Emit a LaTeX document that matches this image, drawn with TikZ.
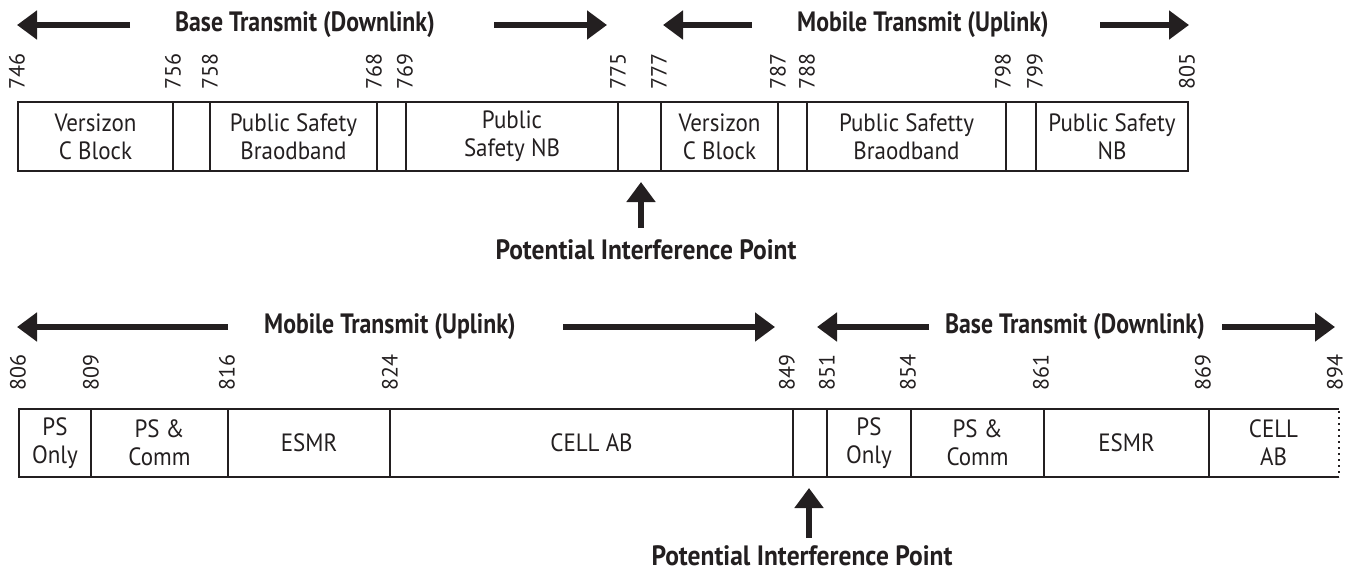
\documentclass[tikz,border=0pt]{standalone}
\usepackage{fontspec}
\setmainfont{PT Sans}
\newfontfamily\bandfont{PT Sans}[FakeStretch=0.92]
\newfontfamily\titlefont{PT Sans}[FakeStretch=0.85]
\newfontfamily\pointfont{PT Sans}[FakeStretch=0.91]
\usetikzlibrary{arrows.meta}
\definecolor{ink}{RGB}{35,31,32}
\tikzset{
	bandline/.style={draw=ink, line width=1.25pt},
	bandtext/.style={text=ink, align=center, inner sep=0pt, font=\bandfont\fontsize{12.5pt}{14pt}\selectfont},
	freq/.style={text=ink, rotate=90, anchor=west, inner sep=0pt, font=\fontsize{11pt}{12pt}\selectfont},
	direction/.style={text=ink, inner sep=0pt, font=\titlefont\bfseries\fontsize{14pt}{16pt}\selectfont},
	pointlabel/.style={text=ink, inner sep=0pt, font=\pointfont\bfseries\fontsize{14pt}{16pt}\selectfont},
	bigarrow/.style={draw=ink, line width=3.4pt, -{Triangle[length=10pt,width=14pt]}}
}

\begin{document}
\begin{tikzpicture}[x=0.5pt, y=-0.5pt]
			%%%%% START %%%%%
			\useasboundingbox (0,0) rectangle (1355,573);
			
			% upper band plan
			\node[direction] (dl1) at (305,25) {Base Transmit (Downlink)};
			\coordinate (dl1a) at (130,25); \coordinate (dl1b) at (17,25);
			\coordinate (dl1c) at (494,25); \coordinate (dl1d) at (607,25);
			\draw[bigarrow] (dl1a) -- (dl1b);
			\draw[bigarrow] (dl1c) -- (dl1d);
			
			\node[direction] (ul1) at (923,25) {Mobile Transmit (Uplink)};
			\coordinate (ul1a) at (752,25); \coordinate (ul1b) at (663,25);
			\coordinate (ul1c) at (1100,25); \coordinate (ul1d) at (1189,25);
			\draw[bigarrow] (ul1a) -- (ul1b);
			\draw[bigarrow] (ul1c) -- (ul1d);
			
			\node[freq] (f746) at (17,90) {746};
			\node[freq] (f756) at (173,90) {756};
			\node[freq] (f758) at (210,90) {758};
			\node[freq] (f768) at (374,90) {768};
			\node[freq] (f769) at (405,90) {769};
			\node[freq] (f775) at (618,90) {775};
			\node[freq] (f777) at (659,90) {777};
			\node[freq] (f787) at (778,90) {787};
			\node[freq] (f788) at (807,90) {788};
			\node[freq] (f798) at (1003,90) {798};
			\node[freq] (f799) at (1035,90) {799};
			\node[freq] (f805) at (1187,90) {805};
			
			\draw[bandline] (18,102) rectangle (173,171);
			\draw[bandline] (173,102) rectangle (210,171);
			\draw[bandline] (210,102) rectangle (377,171);
			\draw[bandline] (377,102) rectangle (406,171);
			\draw[bandline] (406,102) rectangle (618,171);
			\draw[bandline] (618,102) rectangle (661,171);
			\draw[bandline] (661,102) rectangle (778,171);
			\draw[bandline] (778,102) rectangle (807,171);
			\draw[bandline] (807,102) rectangle (1006,171);
			\draw[bandline] (1006,102) rectangle (1036,171);
			\draw[bandline] (1036,102) rectangle (1188,171);
			
			\node[bandtext] (vz1) at (95.5,136.5) {Versizon\\C Block};
			\node[bandtext] (psb1) at (293.5,136.5) {Public Safety\\Braodband};
			\node[bandtext] (psnb1) at (512,136.5) {Public\\Safety NB};
			\node[bandtext] (vz2) at (719.5,136.5) {Versizon\\C Block};
			\node[bandtext] (psb2) at (906.5,136.5) {Public Safetty\\Braodband};
			\node[bandtext] (psnb2) at (1112,136.5) {Public Safety\\NB};
			
			\node[pointlabel] (pip1) at (646,250) {Potential Interference Point};
			\coordinate (pip1a) at (641,228); \coordinate (pip1b) at (641,182);
			\draw[bigarrow] (pip1a) -- (pip1b);
			
			% lower band plan
			\node[direction] (ul2) at (390,327) {Mobile Transmit (Uplink)};
			\coordinate (ul2a) at (228,327); \coordinate (ul2b) at (17,327);
			\coordinate (ul2c) at (563,327); \coordinate (ul2d) at (775,327);
			\draw[bigarrow] (ul2a) -- (ul2b);
			\draw[bigarrow] (ul2c) -- (ul2d);
			
			\node[direction] (dl2) at (1075,327) {Base Transmit (Downlink)};
			\coordinate (dl2a) at (929,327); \coordinate (dl2b) at (817,327);
			\coordinate (dl2c) at (1222,327); \coordinate (dl2d) at (1335,327);
			\draw[bigarrow] (dl2a) -- (dl2b);
			\draw[bigarrow] (dl2c) -- (dl2d);
			
			\node[freq] (f806) at (18,391) {806};
			\node[freq] (f809) at (91,391) {809};
			\node[freq] (f816) at (227,391) {816};
			\node[freq] (f824) at (390,391) {824};
			\node[freq] (f849) at (787,391) {849};
			\node[freq] (f851) at (827,391) {851};
			\node[freq] (f854) at (908,391) {854};
			\node[freq] (f861) at (1041,391) {861};
			\node[freq] (f869) at (1203,391) {869};
			\node[freq] (f894) at (1335,391) {894};
			
			\draw[bandline] (19,409) rectangle (91,477);
			\draw[bandline] (91,409) rectangle (228,477);
			\draw[bandline] (228,409) rectangle (390,477);
			\draw[bandline] (390,409) rectangle (793,477);
			\draw[bandline] (793,409) rectangle (827,477);
			\draw[bandline] (827,409) rectangle (911,477);
			\draw[bandline] (911,409) rectangle (1044,477);
			\draw[bandline] (1044,409) rectangle (1209,477);
			\draw[bandline] (1339,409) -- (1209,409) -- (1209,477) -- (1339,477);
			\draw[bandline, line width=1pt, dash pattern=on 1pt off 2pt] (1339,411) -- (1339,477);
			
			\node[bandtext] (pso1) at (55,443) {PS\\Only};
			\node[bandtext] (psc1) at (159.5,443) {PS \&\\Comm};
			\node[bandtext] (esmr1) at (309,443) {ESMR};
			\node[bandtext] (cab1) at (591.5,443) {CELL AB};
			\node[bandtext] (pso2) at (869,443) {PS\\Only};
			\node[bandtext] (psc2) at (977.5,443) {PS \&\\Comm};
			\node[bandtext] (esmr2) at (1126.5,443) {ESMR};
			\node[bandtext] (cab2) at (1273.5,443) {CELL\\AB};
			
			\node[pointlabel] (pip2) at (802,556) {Potential Interference Point};
			\coordinate (pip2a) at (809,538); \coordinate (pip2b) at (809,488);
			\draw[bigarrow] (pip2a) -- (pip2b);
			
			%%%%% END %%%%%
\end{tikzpicture}
\end{document}
